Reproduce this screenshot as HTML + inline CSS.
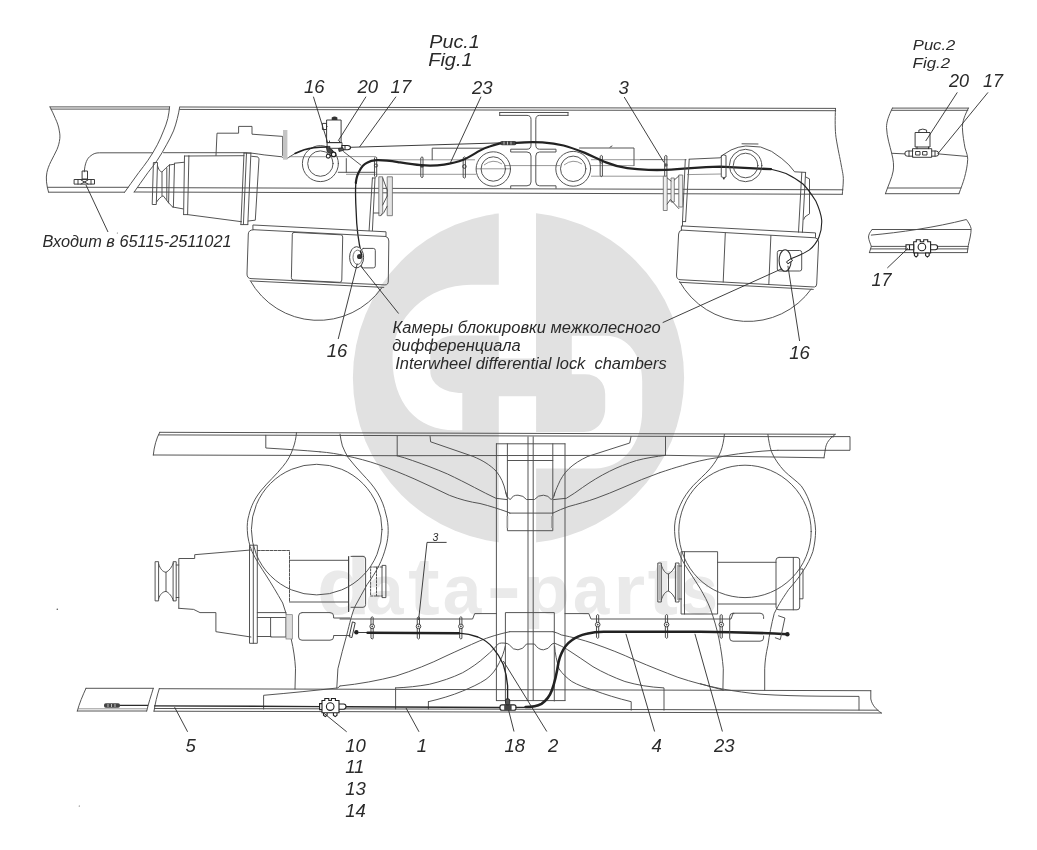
<!DOCTYPE html>
<html lang="ru">
<head>
<meta charset="utf-8">
<title>Схема</title>
<style>
html,body{margin:0;padding:0;background:#fff;}
body{width:1037px;height:850px;overflow:hidden;}
svg{display:block;will-change:transform;}
.l{fill:none;stroke:#4c4c4c;stroke-width:.95;stroke-linecap:round;stroke-linejoin:round;}
.t{fill:none;stroke:#6a6a6a;stroke-width:.7;}
.h{fill:none;stroke:#222;stroke-width:2.2;stroke-linecap:round;}
.h2{fill:none;stroke:#222;stroke-width:1.4;stroke-linecap:round;}
.ld{fill:none;stroke:#2b2b2b;stroke-width:.9;}
text{font-family:"Liberation Sans",sans-serif;font-style:italic;fill:#2a2a2a;}
.n{font-size:18.5px;}
.c{font-size:16px;}
</style>
</head>
<body>
<svg width="1037" height="850" viewBox="0 0 1037 850">
<!-- WATERMARK -->
<g id="wm">
<circle cx="518.5" cy="377.8" r="165.6" fill="#e1e1e1"/>
<!-- d -->
<path fill="#fff" d="M498.8 205 L536 205 L536 358.6 L498.8 358.6 L498.8 335.4 L455 335.4 C440 335.4 430.3 345 430.3 357 L430.3 371 C430.3 384 444 393 462.3 393 L462.3 430.3 L455 430.3 C416.2 430.3 392.5 402.8 392.5 358 C392.5 317.5 427.6 284.7 471 284.7 L498.8 284.7 Z"/>
<!-- p -->
<path fill="#fff" d="M498.8 396.3 L536.1 396.3 L536.1 432 L584 432 C597 432 605.2 421 605.2 408 L605.2 394 C605.2 382 597 374.2 585 374.2 L571.8 374.2 L571.8 335.8 L606 335.8 C628 335.8 642.2 356 642.2 381 L642.2 410 C642.2 445 622 468.4 595 468.4 L536.1 468.4 L536.1 550 L498.8 550 Z"/>
<text aria-label="data-parts" y="613.9" style="font-family:'Liberation Sans',sans-serif;font-style:normal;font-weight:bold;font-size:81px;fill:#eaeaea"><tspan x="316.7" textLength="53.95" lengthAdjust="spacingAndGlyphs">d</tspan><tspan x="365.7" textLength="37.77" lengthAdjust="spacingAndGlyphs" style="font-size:71px">a</tspan><tspan x="408" textLength="31.83" lengthAdjust="spacingAndGlyphs">t</tspan><tspan x="442.7" textLength="38.59" lengthAdjust="spacingAndGlyphs" style="font-size:71px">a</tspan><tspan x="486.4" textLength="34.8" lengthAdjust="spacingAndGlyphs">-</tspan><tspan x="523.5" textLength="46.35" lengthAdjust="spacingAndGlyphs" style="font-size:71px">p</tspan><tspan x="573.1" textLength="36.33" lengthAdjust="spacingAndGlyphs" style="font-size:71px">a</tspan><tspan x="613.2" textLength="31.9" lengthAdjust="spacingAndGlyphs" style="font-size:71px">r</tspan><tspan x="647.6" textLength="30.53" lengthAdjust="spacingAndGlyphs">t</tspan><tspan x="680.6" textLength="37.4" lengthAdjust="spacingAndGlyphs" style="font-size:71px">s</tspan></text>
</g>
<!-- ===== FIG 1 : TOP VIEW ===== -->
<g id="topview">
<!-- left frame fragment -->
<path class="l" d="M50 106.9 L169.6 106.9 M51 109.1 L169.3 109.1"/>
<path class="l" d="M50 106.9 C52 111 54 115 55.4 118.5 C57.5 123 58.8 127 59.3 130.9 C60 134 60 136.5 59.8 138.6 C59.4 142.5 58.4 146 57 149.4 C55 153.5 53 157.5 50.8 161.7 C49 165.5 47.6 169 46.9 172.5 C46.3 175.5 46.2 178.5 46.5 181.8 C46.8 185.5 47.6 188.7 48.5 192"/>
<path class="l" d="M47.5 187.3 L128.2 187.3 M48.5 192.2 L124.6 192.2"/>
<path class="l" d="M169.6 106.9 C169.2 111 168.6 115 167.8 118.5 C166.7 123 165.2 127 163.5 130.9 C161.6 135.8 159.6 140.4 157.3 144.8 C154.5 150.2 151.4 155.3 148 160.2 C145 164.5 142 168.5 138.8 172.5 L131 183.3 L124.6 192.3"/>
<path class="l" d="M84.3 171.8 C84.6 167.5 85.2 164.5 86.3 161.7 C87.4 159 88.8 157 91 155.6 C93.5 153.6 96 152.8 99.4 152.8 L152.6 152.8"/>
<path class="l" d="M82.5 171 h5 v8 h-5 z M74.5 179.5 h20 v4.6 h-20 z M78 179.5 v4.6 M91 179.5 v4.6 M81 180 l7 4 M88 180 l-7 4" style="stroke:#333"/>
<!-- main frame -->
<path class="l" d="M180.5 107 L835.5 108.4 M179.8 109.4 L835.7 110.7"/>
<path class="l" d="M179.7 106.9 C179 111 178.3 115 177.3 118.5 C176.2 123 175 127 173.5 130.9 C171.4 135.8 169 140.4 166.5 144.8 C163.6 150.2 160.6 155.3 157.3 160.2 C154.3 164.5 151.2 168.5 148 172.5 L140.3 183.3 L134.2 192"/>
<path class="l" d="M137.5 187.6 L842.8 189.8 M134.2 192 L842.3 194.3"/>
<path class="l" d="M835.5 108.4 C835 120 835 130 836 137.4 C838 150 840 158 841.2 165 C842.5 172 843.5 176 843.3 180 C843.3 186 842.5 190 842.3 194.3"/>
<!-- pipe along frame -->
<path class="l" d="M163.5 152.7 L245 152.7 C255 153 262 155 270 155.5 L282 156.8 C284 159 287 159 289 157.2 C291 156 293 154.6 295 153.5"/>
<!-- gearbox -->
<path class="l" d="M153.8 162.5 h3.7 L156.3 204.5 h-3.7 z"/>
<path class="l" d="M157.5 165.6 C158.5 169.5 160 171.6 161.9 172 C164.5 169.5 167 166.5 169.5 165 M156.6 202 C158.5 199 161 196.5 163.2 195.8 C165 198 167 200.8 168.6 202.8 M162 172 V195.8 M166.8 168 V200"/>
<path class="l" d="M169.5 165 L174.5 164.2 M168.6 202.8 L172.6 207 M169.5 165 L168.6 202.8 M174.5 163.6 L173.4 207"/>
<path class="l" d="M174.5 163.2 L183.9 162.3 M172.6 207 L183.2 208.9"/>
<path class="l" d="M184.5 156 L183.6 214.6 M188.9 156 L187.6 214.6 M184.5 156 H188.9 M183.6 214.6 H187.6"/>
<path class="l" d="M188.9 156 L244 155.7 M187.6 214.6 L241.5 221.7"/>
<path class="l" d="M244 153.1 L240.9 224.6 M246.5 153.1 L243.4 224.6 M250.9 153.1 L247.8 224.6 M244 153.1 H250.9 M240.9 224.6 H247.8 M251.6 156.3 L257.8 156.9 L259 158.8 L255.3 220.2 L248.2 221"/>
<!-- bracket above gearbox -->
<path class="l" d="M216 155.5 L217 133.2 L238.6 133.2 L238.6 126.4 L252 126.4 L252 134.2 L282.7 136.4 L282.7 155.5"/>
<rect x="283" y="130" width="4.4" height="29.7" fill="#c4c4c4"/>
<!-- left ring -->
<circle class="l" cx="320.4" cy="163.6" r="18"/><circle class="l" cx="320.4" cy="163.6" r="12.7"/>
</g>
<g id="topmid">
<!-- valve 20 -->
<path class="l" d="M327 120 h14.1 v22.6 h-14.1 z M322.8 123.4 h3.7 v6.1 h-3.7 z M326.5 126.5 h.6" style="stroke:#333"/>
<path d="M331.7 120 v-2.4 q2.9 -2.2 5.7 0 v2.4 z" fill="#333"/>
<path class="l" d="M327.5 142.6 h14.5 v5.7 h-14.5 z M329.5 142.6 v-1.6 M339.5 142.6 v-1.6" style="stroke:#333"/>
<path d="M342 145.5 h5.6 q2.9 0 2.9 2.1 q0 2.1 -2.9 2.1 h-5.6 z" fill="#fff" stroke="#222" stroke-width="1.1"/>
<path d="M345 145.5 v4.2" stroke="#222" stroke-width="1"/>
<path d="M338.5 148.5 l4.5 -.8 l.6 2.6 l-4.5 1.2 z" fill="#555" stroke="#222" stroke-width=".8"/>
<path d="M326.3 146.4 h3.6 v3 l2.6 .6 l.6 2.6 l-2.4 1.2 l-3.4 -1.6 z" fill="#444" stroke="#222" stroke-width=".8"/>
<circle cx="328.2" cy="156.2" r="1.9" fill="#fff" stroke="#222" stroke-width="1.1"/>
<circle cx="333.6" cy="154.4" r="2.3" fill="#fff" stroke="#222" stroke-width="1.3"/>
<path d="M330.2 155.8 l1.4 -.6" stroke="#222" stroke-width="1.6"/>
<!-- pipe from left into valve -->
<path class="l" style="stroke:#222;stroke-width:1.5" d="M295 153.5 C301 150.5 307 148.6 313.8 147.8 C318 147.3 322 147 327 146.9"/>
<path class="t" d="M289 156.7 H326.2 M336.4 156.6 H375"/>
<!-- thin tube 17 -->
<path class="l" d="M351 147.3 L500 142.9" style="stroke:#333"/>
<rect x="500" y="140.9" width="16.5" height="4.4" rx="2" fill="#444"/>
<path d="M504 141.6 v3 M507.5 141.6 v3 M511 141.6 v3" stroke="#ddd" stroke-width=".8"/>
<path class="l" d="M516.5 143 L531 142.5"/>
<!-- misc structure under valve -->
<path class="l" d="M346.3 158.6 V172.3 M338.3 172.3 H375 M343.5 151.6 L361 165.2"/>
<path class="t" d="M378.6 159.8 L475 159.8 M346 174.3 L476 174.3"/>
<!-- plates -->
<path class="l" d="M432.2 159.8 L432.2 148.2 L484 148.2"/>
<path class="l" d="M579.5 148 L634 148 L634 165.6 M610 147.2 l2 -1.2"/>
<path class="t" d="M505 165.6 L560 165.6 M590 165.6 L634 165.6 M591 159.7 L686.7 159.7 M591 176.2 L665 176.2 M510 168.8 L476 168.8"/>
<!-- rings -->
<circle class="l" cx="493.3" cy="169" r="17.2"/><circle class="l" cx="493.3" cy="169" r="12.2"/>
<circle class="l" cx="573.2" cy="168.8" r="17.4"/><circle class="l" cx="573.2" cy="168.8" r="12.7"/>
<path class="t" d="M484 165 q9 -7 18 -1 M564 165 q9 -7 18 -1"/>
<!-- I beam -->
<path class="l" d="M499.7 112.5 H568 M499.7 115.4 H527 Q531 115.4 531 119.5 V145 Q531 149.2 527 149.2 H510.7 V152 H527 Q531 152 531 156 V182 Q531 185.8 527 185.8 H510.7 V188.3 M568 115.4 H539.5 Q535.8 115.4 535.8 119.5 V145 Q535.8 149.2 539.5 149.2 H556 V152 H539.5 Q535.8 152 535.8 156 V182 Q535.8 185.8 539.5 185.8 H556 V188.3 M499.7 112.5 v2.9 M568 112.5 v2.9"/>
<!-- clamps -->
<g class="l" style="stroke:#444">
<path d="M374.7 157.5 q1 -1.4 2 0 v19 q-1 1.4 -2 0 z M421 157.5 q1 -1.4 2 0 v19.5 q-1 1.4 -2 0 z M463.4 157.5 q1 -1.4 2 0 v20 q-1 1.4 -2 0 z M600.4 156 q1 -1.4 2 0 v20 q-1 1.4 -2 0 z M664.9 156 q1 -1.4 2 0 v20 q-1 1.4 -2 0 z"/>
</g>
<circle cx="376" cy="165.5" r="1.6" fill="none" stroke="#333" stroke-width=".8"/>
<circle cx="422" cy="166" r="1.8" fill="#444"/>
<circle cx="464.4" cy="166.5" r="1.8" fill="none" stroke="#333" stroke-width=".9"/>
<circle cx="601.4" cy="161.5" r="1.6" fill="none" stroke="#333" stroke-width=".8"/>
<circle cx="665.9" cy="165" r="1.8" fill="#555"/>
<!-- hose 23 (thick) -->
<path class="h" style="stroke-width:1.3" d="M361.5 254.7 C358 240 356.5 225 356.2 212.3 C355.5 200 355.2 192 355.8 183"/>
<path class="h" d="M355.8 183 C356.5 177 357.6 174 359.3 171.4 C361.5 166.5 364 164 367 162.7 C370 161 373 160.4 376.6 160.2 C384 160 391 161 397.9 162.1 C406 163.4 413 164.6 421 165.2 C429 165.8 437 165.6 444.1 164.6 C451 163.6 457 162.3 463.4 159.8 C469 157.3 474 154 478.9 151.1 C483 148.7 486 147.5 490.4 146.3 C494 145 497 144.2 500.1 143.4"/>
<!-- hose 3 (thick) to right -->
<path class="h" d="M516 142.8 C525 142 534 141.9 542.4 142.3 C550 142.8 557 143.8 563.6 145.5 C571 147.5 578 150.2 584.9 152.9 C592 156 599 159.5 606 162.4 C613 165.2 620 167.2 627.3 168.2 C634 169.2 641 169.7 648.5 169.9 C654 170 660 170 665.5 169.9 C674 169.6 682 169 691 168.2 C701 167.5 710 167 720 166.7 L771 169.2" style="stroke-width:2.3"/>
</g>
<g id="topaxles">
<!-- left flange / yoke -->
<path class="l" d="M372.4 178 L369.1 230.6 M375 178 L372.4 230.6 M372.4 178 h2.6"/>
<path d="M378.8 176.8 h3.9 v36 l-2 2.9 h-1.9 z M387.2 176.8 h5.2 v38.9 h-5.2 z" fill="#e4e4e4" stroke="#666" stroke-width=".8"/>
<path class="l" d="M382.7 178 L387.2 190 M382.7 205 L387.2 196 M387.2 190 V196 M373.6 213 h5.2 M380.7 215.7 l3 -3 l3.5 -6.5"/>
<!-- right flange / yoke -->
<path class="l" d="M685.3 159.4 L682.5 221.6 M689.2 159.4 L685.6 221.6 M682.5 221.6 h3.1"/>
<path d="M663.3 176.2 h3.9 v34.3 h-3.9 z M671 178 h3.3 v24 h-3.3 z M678.8 175 h3.9 v32 h-3.9 z" fill="#eee" stroke="#666" stroke-width=".8"/>
<path class="l" d="M667.2 204 L670.4 199.5 L678.8 208.6 M667.2 178 L671 181 M674.3 180 L678.8 176"/>
<!-- left axle box -->
<path class="l" d="M253.3 225 L386 231.8 L386 236.5 L253.3 229.7 Z"/>
<path class="l" d="M253 229.8 Q248.5 230 248.3 234 L247 274 Q247 278.4 251 278.6 L384.9 284.9 Q388.4 285 388.3 281 L388.8 241 Q389 237.5 386 236.5"/>
<path class="l" d="M251.2 281 L383.8 287.4"/>
<path class="l" d="M294 232.4 L340.8 234.8 Q342.8 235 342.7 237 L341.8 280 Q341.7 282.4 339.7 282.3 L293.6 280 Q291.3 279.9 291.4 277.6 L292.3 234.2 Q292.4 232.3 294 232.4 Z"/>
<path class="l" d="M250.2 280.6 A78 78 0 0 0 381.7 288"/>
<!-- left chamber 16 -->
<rect class="l" x="361.5" y="248.4" width="13.8" height="19.5" rx="2"/>
<ellipse cx="356.6" cy="257.3" rx="7" ry="10.6" fill="#fff" stroke="#444" stroke-width="1"/>
<ellipse cx="357.6" cy="257.3" rx="4.6" ry="7.2" fill="none" stroke="#555" stroke-width=".8"/>
<circle cx="359.6" cy="256.5" r="2.6" fill="#333"/>
<path class="h2" d="M361.5 254.7 L360.4 251"/>
<!-- right axle box -->
<path class="l" d="M681.8 225.9 L815.5 232.9 L815.5 237.8 L681.8 230.1 Z"/>
<path class="l" d="M681.6 230.2 Q678.8 230.5 678.6 234 L676.5 275 Q676.4 279.4 680 279.7 L814.4 287 Q816.6 287 816.7 284 L818.6 242 Q818.7 238.5 815.5 237.8"/>
<path class="l" d="M679.7 282.3 L813.3 289.4"/>
<path class="l" d="M725.3 233 L723.2 282 M770.9 235.5 L768.8 284.6"/>
<path class="l" d="M679.7 281.7 A78 78 0 0 0 811.2 289.1"/>
<!-- right chamber 16 -->
<rect class="l" x="777.3" y="250.5" width="24.4" height="20.5" rx="2"/>
<ellipse cx="785.1" cy="260.5" rx="6" ry="10.8" fill="#fff" stroke="#333" stroke-width="1.1"/>
<path d="M786.5 261.8 l4.6 -3.2 l1.4 2 l-4.6 3.2 z" fill="#fff" stroke="#222" stroke-width="1"/>
<!-- right housing above frame -->
<path class="l" d="M689.2 159.2 L720.3 157.8 L722.8 155 L731 150 Q738 146.6 745.8 146 L760.6 147 Q772 150 781.8 158.6 Q789.5 164.5 794.6 171.8 L805.6 172.4"/>
<path class="l" d="M742 143.8 L758 144 M682.5 221.6 V226"/>
<path class="l" d="M805.6 172.4 L802.4 232.4 M801.8 172.4 L798.5 232.2 M805.6 176.9 l3.9 2 V213.8 l-4.5 3 l-1.2 2.6"/>
<circle class="l" cx="745.6" cy="165.5" r="16.2"/><circle class="l" cx="745.6" cy="165.5" r="12.3"/>
<path class="l" d="M721.6 155.5 q2 -1.4 4.4 0 v21.5 q-2.2 1.4 -4.4 0 z" style="stroke:#444"/>
<circle cx="723.8" cy="178.6" r="1" fill="#333"/>
<path class="t" d="M687 174.6 L721 174 M640 159.5 L663 159.5"/>
<!-- thin hose to right chamber -->
<path class="l" style="stroke:#222;stroke-width:1.1" d="M771 169.2 C777 170.5 782 172 786 173.5 C792 176.5 798 180 803 184 C808 189 812 195 815.8 201 C819 208 821 214 821.7 220 C822 227 821 232 819 237 C816.5 243 813 247 809.4 249.9 C804 253.5 798 256 791.5 258.6"/>
</g>
<g id="fig2">
<!-- upper fragment -->
<path class="l" d="M892.4 108.1 L968.4 108.1 M891.5 110.3 L967.8 110.3"/>
<path class="l" d="M892.4 108.1 C888.5 116 886.5 122 886.5 127.4 C886.8 137 890 146 891.6 153 C893.5 160 894 166 893.2 171 C892 178 888 186 885.4 193.7"/>
<path class="l" d="M968.4 108.1 C965 115 962.4 121 962.4 127.4 C962.6 135 964 142 965 147.9 C966.6 153 967.8 156 967.7 159.5 C967.4 166 966 172 964.5 177.7 C963 183 961 188 958.9 193.7"/>
<path class="l" d="M887.8 188 L960.8 188 M885.4 193.7 L958.9 193.7"/>
<path class="l" d="M892 153.3 L905.2 153.9 M938.5 153.9 L966.7 156.4"/>
<!-- valve -->
<path class="l" style="stroke:#333" d="M915.5 132.5 h14.5 v14.5 h-14.5 z M918.9 132.5 v-2.4 q3.9 -2 7.7 0 v2.4 M917 147 v1.7 M928.5 147 v1.7 M912.9 148.7 h18.8 v8.6 h-18.8 z M912.9 151 h-5.5 q-2.6 0 -2.6 2.6 q0 2.6 2.6 2.6 h5.5 M931.7 151 h4.4 q2.6 0 2.6 2.6 q0 2.6 -2.6 2.6 h-4.4 M909 151 v5.2 M935 151 v5.2 M916 151.5 h4 v3.5 h-4 z M923 151.5 h4 v3.5 h-4 z"/>
<!-- lower fragment -->
<path class="l" d="M872.2 229.5 L970.8 229.5 M871.3 235.1 C900 232.5 935 227.5 966.4 219.5 C968.5 222.5 970.5 225.5 971.1 228.5 C971.3 234 969.4 240 968.3 245.5 L967.3 252.6"/>
<path class="l" d="M872.2 229.5 C869.8 232 868.7 234.5 868.5 237 C868.8 240.5 870.4 243.5 871.3 246.4 L869.4 252.6"/>
<path class="l" d="M871.3 246.4 L906 246.4 M937.6 246.4 L968.2 246.4 M870.6 248.9 L906 248.9 M937.6 248.9 L967.8 248.9 M869.4 252.6 L967.3 252.6"/>
<path style="fill:#fff;stroke:#222;stroke-width:1.1" d="M913.7 241.8 h2.6 v-2 h4 v2 h3.4 v-2 h4 v2 h2.9 v11.2 h-16.9 z"/>
<circle cx="921.9" cy="247" r="3.8" fill="#fff" stroke="#222" stroke-width="1.1"/>
<path style="fill:#fff;stroke:#222;stroke-width:1.1" d="M906 244.8 h7.7 v5 h-7.7 z M909.5 244.8 v5 M930.6 244.8 h4.6 q2.4 0 2.4 2.5 q0 2.5 -2.4 2.5 h-4.6 z M914.4 253 h3.4 v2.6 l-1.7 1.4 l-1.7 -1.4 z M925.6 253 h3.6 v2.6 l-1.8 1.4 l-1.8 -1.4 z"/>
</g>
<!-- ===== FIG 1 : BOTTOM VIEW ===== -->
<g id="botframe">
<!-- upper frame rail -->
<path class="l" d="M159.7 432.3 L835.2 434.3 M158.6 434.9 L833.5 436.8"/>
<path class="l" d="M159.7 432.3 C156.5 438 154 447 153.3 455"/>
<path class="l" d="M153.3 455 L396 455.7 L665.5 455.3 L824 457.8"/>
<path class="l" d="M265.8 435.3 L265.8 448 C285 449.2 303 450.3 320 451.8"/>
<!-- right end -->
<path class="l" d="M835.2 434.4 C829 439 826.5 443 825.6 447.6 L824 457.8 M831 436.6 H850 V450.3 H777.9 M825.2 450.3 v0"/>
<path class="l" d="M660 472.6 C668 470 675 467.6 682.4 465.6 C694 462 705 459.5 716.4 457.8 C726 455.5 736 454 746 452.9 C757 451.5 767 450.6 777.9 450.3"/>
<path class="l" d="M665.5 436.5 V455.3"/>
<!-- left wheel -->
<circle class="l" cx="316.7" cy="529.6" r="65.3"/>
<path class="l" d="M296.5 432.7 C296 438 295 443 293.3 447.6 C291 455 287.5 461 282.7 466.7 C276 475 268 482 261.5 490 C255 498 251 506 248.8 515.5 C247.5 520 247 525 247.3 530.3 C247.5 538 249.5 545 252 551.5 C256 560 261 567.5 265.8 574.9 C271 583 277 593 282.7 603 C287 615 289.5 627 291.2 639 C293.5 649 295 659 295.5 668.8 L295 689"/>
<path class="l" d="M340 434.1 C340.5 438 341.3 442 342.4 445.9 C344 450 346 454 348.2 457.6 C352.5 463.5 357.5 468.5 362.4 474.1 C368 480 373.5 486 377.6 492.9 C381.5 499.5 384.3 506.5 385.9 514.1 C387.5 519.5 388.2 525 388.2 530.6 C388.2 536 387.4 541.5 385.9 547 C384.2 553.5 381.8 560 378.8 565.9 C375.5 572.5 371.5 578.5 367 584.7 C363 592 359 599 355.3 605.9 C352 613 349.5 624 347 634 C344 645.5 340.5 657 337.9 668.8 L336.8 688"/>
<!-- right wheel -->
<circle class="l" cx="745" cy="531.4" r="66.2"/>
<path class="l" d="M724.4 434.4 C723.8 440.5 722.6 446.5 720.6 451.8 C718 458 714.5 463.5 710 468.8 C704.5 475 698.5 480 693 485.8 C688 491.5 683.5 497.5 680.3 504.9 C677 512 675 519 674.6 526 C674.3 533.5 675.2 540.5 677.1 547.3 C679 553.5 681.5 559 684.5 564.2 C689.5 572 695 580 700 588.2 C704 595 707.8 602 710.6 609.4 C714 619 717 629 719 639 C721 649 722.5 659 723.3 668.8 L722.9 690"/>
<path class="l" d="M767.9 434.4 C768.6 440.5 769.8 446.5 771.5 451.8 C774.5 459 779 465 784.2 470.9 C790 476.5 796 480.5 801.2 485.8 C806 492.5 809.5 500.5 811.8 509.1 C814 516 815.3 523 815.6 530.3 C815.6 537.5 814.6 544.5 812.9 551.5 C810.5 558.5 807.3 564.8 803.3 570.6 C799 577.5 794 583.5 788.5 589.7 C784 596.5 779 603.5 774.2 613.6 C771.5 624 769.3 635 767.9 645.5 C766 653.5 765 661 764.7 668.8 L764.7 690"/>
<!-- bracket + trapezoids under top rail -->
<path class="l" d="M397.2 436 V455.8 M430.1 436.5 L430.6 441.8 L473 456.4 C483 460.5 490 465 496 471 C501 477 504 484 505.5 491.5 L507 497"/>
<path class="l" d="M631 436.7 L629.7 443 L587.9 456.4 C580 460 574 464 569 468.6 C564 473.5 560.5 479 558.2 484.8 C556.5 488.5 555 492 554 496"/>
<!-- spring leaves upper -->
<path class="l" d="M397.2 455.8 C402 457 407 458.5 412.4 460.5 C424 464.5 436 469 447.5 474 C457 478.5 466 483 474.5 487.5 C482 491.5 489 495 496 498.3 L507 499.6"/>
<path class="l" d="M320 451.8 C329 452.5 338 454 345.9 455.8 C357 458 368 461 378.8 464.7 C391 469 403 474 414.1 478.8 C426 484 438 490 449.4 495.3 C460 499.5 470 502 480 503.5 C490 506 499 509 507 511.8 L510 513.1"/>
<path class="l" d="M665.5 455.3 C656 456.5 646 458 636.5 460.5 C627 463.5 618 467 609.5 471.3 C600 476 591 481.5 582.5 487.5 C577 491.5 572 495 566.3 498.3 L553.5 499.6"/>
<path class="l" d="M660 472.6 C648 477 635 482 623 487.5 C614 491.5 605 495 596 498.3 C587 501.5 578 504 569 506.4 C563 508.5 558 510.5 552.8 513.1"/>
<!-- central column -->
<path class="l" d="M496.4 443.8 H565 M496.4 443.8 V700.6 M565 443.8 V700.6 M496.4 700.6 H565 M528 436.8 V700.6 M533.2 436.8 V700.6"/>
<path class="l" d="M507.4 443.8 V530.7 H552.8 V443.8 M507.4 460.5 H552.8 M509.6 513.1 H552.8"/>
<path class="l" d="M505.5 491.5 C506.5 496 508.5 499.3 510.5 499.4 Q513 494.8 518 495.2 Q523.5 495.4 526.5 499.5 H534.5 Q538 495 543.5 495.2 Q548.5 495.4 551 499.4 C553 499 554 497 554.6 493"/>
<path d="M507.4 516 v12 M552 516 v12" stroke="#999" stroke-width="1.6" fill="none"/>
<!-- lower inner rect and waves -->
<path class="l" d="M505.4 701 V612.6 H554.3 V701"/>
<path class="l" d="M509.7 631.7 H553 M506 643.3 Q508 643.3 509.5 645 Q513 650.2 518 649.8 Q523 649.6 526.5 644 H534.5 Q538.5 650 543.5 649.8 Q548.5 649.6 552 644 L554.3 643.3"/>
<!-- spring leaves lower, left -->
<path class="l" d="M340 686 C360 684 378 680.5 396 676 C413 670.5 430 664 446 656 C458 650.5 469 645.5 479.3 641 C489 637 499 634 509.7 631.7"/>
<path class="l" d="M395.6 687.9 C407 687.5 418 686.3 429.3 684.3 C441 681.5 452 677.8 462.7 672.7 C471 668 479 662.5 486 656 C491 651.8 495 648 497.7 644.3 C500 642.5 503 643 506 643.3"/>
<path class="l" d="M428.4 701.7 C440 699 452 695.5 462.7 691 C471 687.5 479 684 486 679.3 C492 675 496 669.5 499.3 662.7 C502 657.5 504 652 505.3 646"/>
<path class="l" d="M395.6 687.9 V709 M428.4 701.7 V709"/>
<!-- spring leaves lower, right -->
<path class="l" d="M553 631.7 C556 632.5 558.5 633.5 561.2 634.9 C572 637 583 640 593 643.3 C608 648.5 622 654 635.5 660.3 C650 666.5 664 672 677.9 677.3 C692 682 707 686 722.4 689 C735 691.2 748 693 760 694.2 C780 695.5 800 696 820 696.2 L859 696.4 V710"/>
<path class="l" d="M554.8 643.3 C559 645 563.5 647 567.6 649.7 C576 655 584.5 661 593 666.7 C603 672.5 614 677.5 624.9 681.5 C637 685 650 687.2 664 687.9 V710.2"/>
<path class="l" d="M554.6 646 C555 654 557 661.5 559 668.8 C562.5 674 567 678 571.8 681.5 C578 685 585 687.8 593 690 C605 694.5 618 698.5 631.2 701.7 V710.2"/>
<!-- lower frame rail -->
<path class="l" d="M159.3 688.7 L870.8 690.7 M86 688.3 L153.3 688.3"/>
<path class="l" d="M86 688.3 C82.5 696 79.5 703 77.3 711 M153.3 688.3 C151 696 148.5 703 146.7 711 M159.3 688.6 C157 696 155.2 703 154 711.2"/>
<path class="t" d="M78 708.8 H147.4"/><path class="l" d="M77.3 711 H146.7"/>
<path class="l" d="M154.4 708.5 L500 709.2 L878 710.2 M154 711.2 L500 712 L881.4 713"/>
<path class="l" d="M870.8 690.7 V699 C872 705 876 709.5 881.4 713"/>
<path class="l" d="M263.6 709 V695.3 C290 693 315 690.5 337.9 687.9 L340 686"/>
<path class="l" d="M700 683.6 C708 686 716 688.2 723.3 690"/>
</g>
<g id="botparts">
<!-- left gearbox -->
<path class="l" d="M155.5 561.7 h3.1 v39.2 h-3.1 z M173.5 561.7 h2.7 v39.2 h-2.7 z"/>
<path class="l" d="M158.6 563.8 C160 569 163 572 166 572.3 C169 571 172 567 173.5 562.9 M158.6 598.8 C160 594 163 591.6 166 591.4 C169 592.6 172 596.5 173.5 600.7 M166 572.3 V591.4"/>
<path class="l" d="M176.2 565 h2.6 M176.2 597.5 h2.6"/>
<path class="l" d="M178.8 608.3 L178.8 558.5 L194.7 558.5 L194.7 554.7 L250.9 550 M178.8 608.3 L193.6 609.4 L200 612.6 L215.9 612.6 L215.9 631.7 L250.9 637"/>
<path class="l" d="M249.9 545.2 h7.4 V643.3 h-7.4 z M253.3 545.2 V643.3"/>
<path class="l" stroke-dasharray="3 1.2" d="M257.3 550.5 H289.5 V602"/>
<path class="l" d="M289.5 560.3 H348.5 M289.5 602 H348.5"/>
<path class="l" d="M257.3 612.6 H286 M257.3 617.5 H271 M257.3 636.5 H271 M271 617.5 h15 v19.5 h-15 z"/>
<rect x="286" y="614.7" width="6.3" height="24.3" fill="#ddd" stroke="#777" stroke-width=".7"/>
<path class="l" d="M302 612.6 H330 Q333.6 612.6 333.6 616 V618 H350 M350 635.5 H333.6 V637 Q333.6 640.2 330 640.2 H302 Q298.6 640.2 298.6 637 V616 Q298.6 612.6 302 612.6"/>
<path class="l" style="stroke:#444;stroke-width:1.2" d="M348.6 556.6 V611.5"/>
<path class="l" d="M351 556.4 H363 Q365.6 556.4 365.6 559 V604.6 Q365.6 607.3 363 607.3 H351"/>
<path class="l" d="M382.4 565.4 h3.5 v32.2 h-3.5 z"/>
<path class="l" stroke-dasharray="2 1.4" d="M382.4 567 H370.6 V596 H382.4 M376.5 567 V596"/>
<!-- line above hoses -->
<path class="l" d="M340 619 H472.6 L474.7 613.6 H496.4"/>
<path class="l" d="M565 613.6 H588.8 L591 619 H731 L733 613.6 H734"/>
<!-- left hose end -->
<path class="l" d="M352.8 622 l2.4 .8 l-3.3 14.8 l-2.4 -.8 z" style="stroke:#333"/>
<circle cx="356.4" cy="632.3" r="2.2" fill="#222"/>
<path class="l" d="M358.6 632.5 H367.6" style="stroke:#333"/>
<!-- clamps bottom view -->
<g class="l" style="stroke:#444">
<path d="M371.2 617.4 q1 -1.4 2 0 v21 q-1 1.4 -2 0 z M417.5 617.4 q1 -1.4 2 0 v21 q-1 1.4 -2 0 z M459.9 617.4 q1 -1.4 2 0 v21 q-1 1.4 -2 0 z M596.7 615.2 q1 -1.4 2 0 v22.5 q-1 1.4 -2 0 z M665.6 615.2 q1 -1.4 2 0 v22.5 q-1 1.4 -2 0 z M720.3 615.2 q1 -1.4 2 0 v22.5 q-1 1.4 -2 0 z"/>
</g>
<g fill="#fff" stroke="#333" stroke-width=".9">
<circle cx="372.2" cy="626.4" r="2.3"/><circle cx="418.5" cy="626.4" r="2.3"/><circle cx="460.9" cy="626.4" r="2.3"/>
<circle cx="597.7" cy="624.6" r="2.3"/><circle cx="666.6" cy="624.6" r="2.3"/><circle cx="721.3" cy="624.6" r="2.3"/>
</g>
<g fill="#444"><circle cx="372.2" cy="626.4" r=".9"/><circle cx="418.5" cy="626.4" r=".9"/><circle cx="460.9" cy="626.4" r=".9"/><circle cx="597.7" cy="624.6" r=".9"/><circle cx="666.6" cy="624.6" r=".9"/><circle cx="721.3" cy="624.6" r=".9"/></g>
<!-- hose 3 bottom view -->
<path class="h" style="stroke-width:2.6" d="M367.6 632.7 L458.8 633.2"/>
<path class="h" style="stroke-width:1.35" d="M458.8 633.2 C466 633.6 472 634.8 477.9 637 C484 639.5 489 643 492.7 647.6 C497 652.5 500.5 658 503.3 664.6 C505.5 671 507 678 507.6 685.8 L507.6 699"/>
<!-- hose 4 -->
<path class="h" style="stroke-width:2.6" d="M525.6 707 C532 707 537.5 706 541.5 703.8 C546.5 700.5 549.8 696 552 690 C555 681.5 557 672 558.5 662.4 C559.3 659 560 656.5 561.2 654 C563.5 648 567 643.5 571.8 640.2 C576 637 581 635 586.7 633.8 C592 632.5 598 631.8 603.6 631.7 L700 631.7 C730 631.8 760 632.8 787 634.2"/>
<circle cx="787.4" cy="634.3" r="2.2" fill="#222"/>
<!-- right gearbox -->
<path class="l" d="M681.5 551.7 H717.6 V614 H681.5 Z M684.5 551.7 V614"/>
<path class="l" d="M658.2 563 h3.1 v39 h-3.1 z M675.8 563 h3.2 v39 h-3.2 z M679 566 h2.5 M679 599 h2.5"/>
<path class="l" d="M661.3 565 C663 570.5 665.5 573.5 668.5 574 C671.5 572.5 674.5 568.5 675.8 564.5 M661.3 600 C663 594.5 665.5 591.5 668.5 591 C671.5 592.5 674.5 596.5 675.8 600.5 M668.5 574 V591"/>
<path d="M659.8 565 v35 M677.3 565 v35" stroke="#aaa" stroke-width="1.2"/>
<path class="l" d="M717.6 562.3 H776 M717.6 604 H776"/>
<path class="l" d="M779 557.4 H797 Q799.7 557.4 799.7 560 V607 Q799.7 609.8 797 609.8 H779 Q776 609.8 776 607 V560 Q776 557.4 779 557.4 M793.3 557.4 V609.8 M799.7 569 h3.3 v29.8 h-3.3"/>
<path class="l" d="M733 613.2 H760 Q763.6 613.2 763.6 616.5 V618.5 M763.6 636 V638 Q763.6 641.2 760 641.2 H733 Q729.7 641.2 729.7 638 V616.5 Q729.7 613.2 733 613.2"/>
<path class="l" d="M778.5 615.8 l6.4 2.2 l-4.6 21.6 l-5 -1.8"/>
<!-- tube 1/5 along lower rail -->
<path class="l" style="stroke:#2a2a2a;stroke-width:1.4" d="M154.6 705.9 L322 706.6 M346 706.8 L500 707.5 M120 705.4 H147.6"/>
<rect x="104" y="703.3" width="16" height="4.4" rx="1.8" fill="#444"/>
<path d="M108 704 v3 M111.5 704 v3 M115 704 v3" stroke="#ddd" stroke-width=".8"/>
<!-- fitting 10 -->
<path style="fill:#fff;stroke:#222;stroke-width:1.1" d="M322 700.5 h2.8 v-2 h4 v2 h2.6 v-2 h4 v2 h3.6 v12.3 h-17 z M323.5 712.8 h3.6 v2.4 l-1.8 1.4 l-1.8 -1.4 z M333.4 712.8 h3.6 v2.4 l-1.8 1.4 l-1.8 -1.4 z M339 704 h4.6 q2.4 0 2.4 2.6 q0 2.6 -2.4 2.6 h-4.6 z M319.6 703.6 h2.4 v6 h-2.4 z"/>
<circle cx="330.2" cy="706.6" r="3.8" fill="#fff" stroke="#222" stroke-width="1.1"/>
<!-- tee 18 -->
<rect x="500" y="704.9" width="16" height="5.3" rx="2" fill="#fff" stroke="#222" stroke-width="1.1"/>
<rect x="504.2" y="704.9" width="7.4" height="5.3" fill="#444"/>
<rect x="505.5" y="698.8" width="4.2" height="6.1" rx="1.5" fill="#555" stroke="#222" stroke-width=".9"/>
<path class="l" style="stroke:#2a2a2a;stroke-width:1.3" d="M516 707.3 H526"/>
</g>
<!-- ===== LEADERS ===== -->
<g id="leaders" class="ld">
<path d="M313.4 96.7 L327.6 142.4"/>
<path d="M366 96.7 L338.2 140.8"/>
<path d="M396 96.7 L359.5 147"/>
<path d="M481 96.7 L450 163.6"/>
<path d="M624.2 97 L663.9 162.4"/>
<path d="M957.3 92.4 L925.7 141"/>
<path d="M988 92.4 L937.7 153.9"/>
<path d="M887.3 268 L908 248.3"/>
<path d="M86 185 L108 232"/>
<path d="M338.2 339 L357.3 263.6"/>
<path d="M398.6 313.5 L360.5 265.8"/>
<path d="M799.6 341 L787.9 265.8"/>
<path d="M662.7 322.6 L781.5 268.9"/>
<path d="M174.6 707.2 L187.6 731.8"/>
<path d="M323.6 713 L346.7 731.8"/>
<path d="M406 708 L419 731.8"/>
<path d="M508.6 710.2 L514 731.5"/>
<path d="M503.3 661 L546.8 731.5"/>
<path d="M625.9 633.8 L654.6 731.5"/>
<path d="M694.9 633.8 L722.4 731.5"/>
<path d="M446.6 542.4 H427 L418.6 620"/>
</g>
<!-- ===== TEXT ===== -->
<g id="labels">
<text x="429.3" y="48.3" style="font-size:18px" textLength="50.5" lengthAdjust="spacingAndGlyphs">Рис.1</text>
<text x="428.2" y="65.7" style="font-size:18px" textLength="44.5" lengthAdjust="spacingAndGlyphs">Fig.1</text>
<text class="n" x="304" y="92.9">16</text>
<text class="n" x="357.5" y="92.9">20</text>
<text class="n" x="390.6" y="92.9">17</text>
<text class="n" x="472" y="94">23</text>
<text class="n" x="618.6" y="94">3</text>
<text x="912.8" y="49.7" style="font-size:14.6px" textLength="42.5" lengthAdjust="spacingAndGlyphs">Рис.2</text>
<text x="912.6" y="67.7" style="font-size:14.6px" textLength="37.5" lengthAdjust="spacingAndGlyphs">Fig.2</text>
<text class="n" x="949" y="87.3" style="font-size:18px">20</text>
<text class="n" x="983" y="87.3" style="font-size:18px">17</text>
<text class="n" x="871.5" y="286" style="font-size:18px">17</text>
<text class="n" x="326.8" y="357">16</text>
<text class="n" x="789.2" y="359">16</text>
<text class="c" x="42.6" y="246.6" textLength="189" lengthAdjust="spacingAndGlyphs">Входит в 65115-2511021</text>
<text class="c" x="392.6" y="332.5" textLength="268" lengthAdjust="spacingAndGlyphs">Камеры блокировки межколесного</text>
<text class="c" x="392.2" y="351.3" textLength="128.5" lengthAdjust="spacingAndGlyphs">дифференциала</text>
<text class="c" x="395.2" y="369.2" textLength="271.5" lengthAdjust="spacingAndGlyphs" xml:space="preserve">Interwheel differential lock  chambers</text>
<text class="n" x="185.6" y="751.5">5</text>
<text class="n" x="345.2" y="751.5">10</text>
<text class="n" x="345.2" y="772.9">11</text>
<text class="n" x="345.2" y="794.9">13</text>
<text class="n" x="345.2" y="816.6">14</text>
<text class="n" x="416.8" y="751.5">1</text>
<text class="n" x="504.5" y="752">18</text>
<text class="n" x="548" y="752">2</text>
<text class="n" x="651.4" y="752">4</text>
<text class="n" x="714" y="752">23</text>
<text x="432.6" y="541" style="font-size:10.5px">3</text>
</g>
<!-- specks -->
<g fill="#555"><circle cx="57.3" cy="609.3" r=".8"/><circle cx="79.3" cy="806" r=".6"/><circle cx="117.3" cy="233" r=".5"/></g>
</svg>
</body>
</html>
